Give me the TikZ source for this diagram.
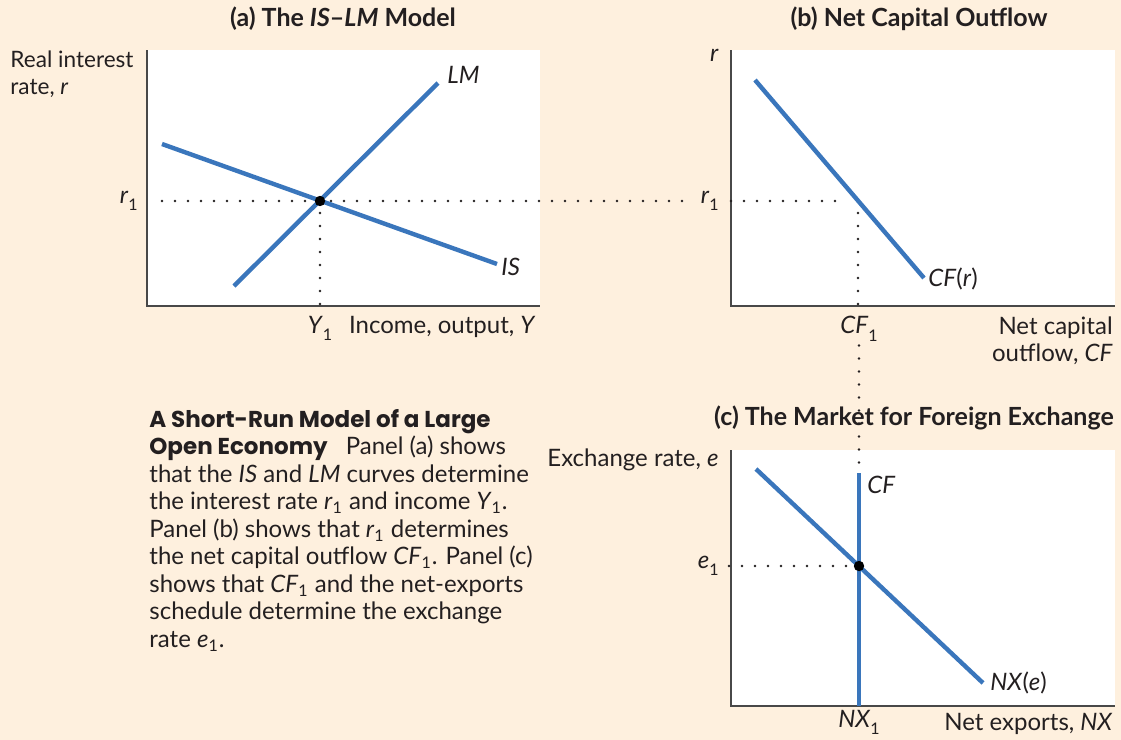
\documentclass[tikz,border=0pt]{standalone}
\usepackage{fontspec}
\setmainfont{Lato}
\newfontfamily\headfont{Poppins}
\usetikzlibrary{positioning}
\definecolor{paper}{RGB}{254,240,222}
\definecolor{curveblue}{RGB}{58,118,188}
\definecolor{axisgray}{RGB}{72,72,72}
\definecolor{ink}{RGB}{35,31,32}
% italic letter with a low subscript, as on the axes
\newcommand{\vsub}[2]{\textit{#1}\raisebox{-0.6ex}{\footnotesize #2}}
\newcommand{\csub}[2]{\textit{#1}\textsubscript{#2}}
\tikzset{
  panel/.style={fill=white,draw=none},
  axis/.style={draw=axisgray,line width=0.8pt},
  curve/.style={draw=curveblue,line width=2.2pt},
  guide/.style={draw=ink,line width=1.3pt,line cap=round,
                dash pattern=on 0pt off 6.5pt},
  lbl/.style={font=\fontsize{12}{13.75}\selectfont,text=ink,inner sep=2pt},
  ttl/.style={font=\fontsize{12.5}{14}\selectfont\bfseries,text=ink},
  eqpt/.style={circle,fill=black,inner sep=0pt,minimum size=5.2pt},
}

\begin{document}
\begin{tikzpicture}[x=0.5pt,y=-0.5pt]
\fill[paper] (0,0) rectangle (1121,740);
\useasboundingbox (0,0) rectangle (1121,740);

% (a) IS-LM
\fill[panel] (147,50) rectangle (540,306);
\draw[axis] (147,50) |- (540,306);
\node[ttl] (ta) at (343,19) {(a) The \textit{IS}--\textit{LM} Model};
\node[lbl, anchor=north west, align=left, font=\fontsize{11.3}{13.5}\selectfont] (ya) at (6,46) {Real interest\\rate, \textit{r}};
\node[lbl, anchor=east] (ra) at (142,201) {\vsub{r}{1}};
\node[lbl, anchor=north] (y1) at (320,312) {\vsub{Y}{1}};
\node[lbl, anchor=east] (xa) at (540,327) {Income, output, \textit{Y}};
\coordinate (E1) at (320,201);
\coordinate (aB) at (320,306);
\coordinate (lm0) at (234,286);
\coordinate (lm1) at (438,83);
\coordinate (is0) at (162,144);
\coordinate (is1) at (497,264);
\node[lbl, anchor=west] (lmt) at (443,75) {\textit{LM}};
\node[lbl, anchor=west] (ist) at (497,267) {\textit{IS}};

% (b) net capital outflow
\fill[panel] (731,50) rectangle (1115,306);
\draw[axis] (731,50) |- (1115,306);
\node[ttl] (tb) at (919,19) {(b) Net Capital Outflow};
\node[lbl, anchor=east] (yb) at (723,55) {\textit{r}};
\node[lbl, anchor=east] (rb) at (723,201) {\vsub{r}{1}};
\node[lbl, anchor=north] (cf1) at (859,312) {\vsub{CF}{1}};
\node[lbl, anchor=north east, align=right] (xb) at (1117,312) {Net capital\\outflow, \textit{CF}};
\coordinate (C1) at (858,201);
\coordinate (bB) at (858,306);
\coordinate (cf0) at (755,80);
\coordinate (cf1e) at (924,278);
\node[lbl, anchor=west] (cft) at (924,279) {\textit{CF}(\textit{r})};

% (c) foreign exchange
\fill[panel] (731,450) rectangle (1115,706);
\draw[axis] (731,450) |- (1115,706);
\node[lbl, anchor=east] (yc) at (723,460) {Exchange rate, \textit{e}};
\node[lbl, anchor=east] (ec) at (723,566) {\vsub{e}{1}};
\node[lbl, anchor=north, inner sep=1pt] (nx1) at (859,708) {\vsub{NX}{1}};
\node[lbl, anchor=east] (xc) at (1117,724) {Net exports, \textit{NX}};
\coordinate (X1) at (859,566);
\coordinate (sv0) at (859,473);
\coordinate (sv1) at (859,706);
\coordinate (nx0) at (756,469);
\coordinate (nxe) at (983,683);
\node[lbl, anchor=west] (svt) at (863,485) {\textit{CF}};
\node[lbl, anchor=west] (nxt) at (986,683) {\textit{NX}(\textit{e})};

% dotted guides
\draw[guide, shorten <=10pt, shorten >=6pt] (ra.east) -- (rb.west);
\draw[guide, shorten <=4pt, shorten >=5pt] (rb.east) -- (C1);
\draw[guide, shorten <=6pt] (E1) -- (aB);
\draw[guide, shorten <=6pt] (C1) -- (bB);
\draw[guide, shorten >=5pt] (cf1.south) -- (sv0);
\draw[guide, shorten <=3pt, shorten >=4pt] (ec.east) -- (X1);
\node[ttl] (tc) at (914,418) {(c) The Market for Foreign Exchange};

% curves
\draw[curve] (lm0) -- (lm1);
\draw[curve] (is0) -- (is1);
\draw[curve] (cf0) -- (cf1e);
\draw[curve] (sv0) -- (sv1);
\draw[curve] (nx0) -- (nxe);
\node[eqpt] (ptA) at (E1) {};
\node[eqpt] (ptC) at (X1) {};

% caption
\node[lbl, anchor=north west, align=left] (cap) at (145,405)
  {{\headfont\bfseries\fontsize{11.5}{13.75}\selectfont A Short-Run Model of a Large}\\
   {\headfont\bfseries\fontsize{11.5}{13.75}\selectfont Open Economy}\hspace{0.5em} Panel (a) shows\\
   that the \textit{IS} and \textit{LM} curves determine\\
   the interest rate \csub{r}{1} and income \csub{Y}{1}.\\
   Panel (b) shows that \csub{r}{1} determines\\
   the net capital outflow \csub{CF}{1}. Panel (c)\\
   shows that \csub{CF}{1} and the net-exports\\
   schedule determine the exchange\\
   rate \csub{e}{1}.};
\end{tikzpicture}
\end{document}
